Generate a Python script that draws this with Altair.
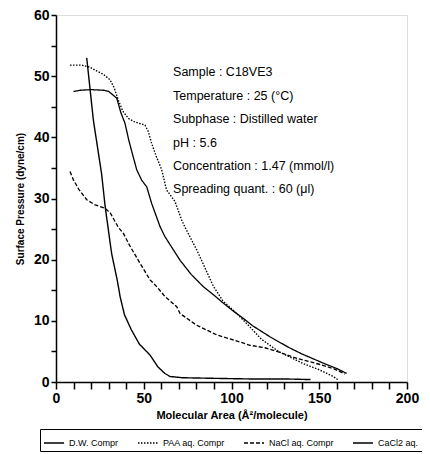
import altair as alt
import pandas as pd

series_names = ["D.W. Compr", "PAA aq. Compr", "NaCl aq. Compr", "CaCl2 aq."]

dw_x = [17.5, 21.3, 26, 28, 31.7, 35, 36.5, 39, 43, 47.5, 53.6, 58, 62, 65, 72, 90, 110, 130, 145]
dw_y = [53, 42.8, 34, 28.7, 21, 16.5, 14, 11, 8.5, 6.2, 4.4, 2.5, 1.4, 0.9, 0.7, 0.6, 0.5, 0.5, 0.4]

paa_x = [8, 14.6, 19, 22.2, 27, 30.8, 33, 35.5, 38, 41.2, 45, 50.7, 52.5, 54.5, 57, 60.2, 63, 67.8, 71.6, 73.5, 80.2, 89.6, 95, 103, 110.5, 117, 126.7, 140.9, 150, 158, 161]
paa_y = [51.8, 51.8, 51.5, 51, 50.3, 49.4, 48.2, 46.1, 44.3, 43.1, 42.5, 42, 41, 39, 37, 34.7, 31.4, 29.5, 26.5, 25.3, 21.6, 15.7, 13.3, 11.2, 9.0, 7.0, 5.0, 3.0, 2.0, 0.9, 0.3]

nacl_x = [8, 10, 13, 17.5, 22, 27.9, 31, 35.5, 38.4, 42, 47.9, 53.6, 57.4, 62, 68.8, 70.7, 80, 91.6, 102, 110.5, 119, 125.8, 138, 150, 158, 164.6]
nacl_y = [34.4, 33, 31.5, 29.8, 29, 28.4, 27.6, 25.3, 24.3, 22.3, 19.4, 16.7, 15.6, 14, 12.3, 11.2, 9.3, 7.7, 6.8, 6.0, 5.6, 5.0, 3.8, 2.9, 2.2, 1.3]

cacl_x = [10, 14, 20, 27, 30, 33, 34.6, 37, 39.3, 41.5, 44, 46, 48.8, 51.7, 54.5, 59.3, 62, 66, 70.7, 77, 83.9, 90, 95.3, 101, 106.7, 112, 121.9, 126.7, 133, 140, 153, 160, 165.6]
cacl_y = [47.5, 47.7, 47.8, 47.7, 47.5, 46.8, 46.4, 44, 42.3, 39.5, 36.8, 34.7, 33, 31.9, 29.2, 25.4, 23.8, 22, 19.9, 17.6, 15.6, 14.2, 12.9, 11.6, 10.4, 9.2, 7.4, 6.6, 5.6, 4.6, 3.0, 2.2, 1.4]

x_tick_values = list(range(0, 201, 10))
y_tick_values = list(range(0, 61, 5))

note_lines = [
    "Sample  : C18VE3",
    "Temperature : 25 (\u00b0C)",
    "Subphase : Distilled water",
    "pH : 5.6",
    "Concentration : 1.47 (mmol/l)",
    "Spreading quant. : 60 (\u03bcl)",
]
note_x = [66.7] * 6
note_y = [50.7, 46.8, 43.0, 39.1, 35.3, 31.5]

rows = []
for name, xs_, ys_ in zip(series_names, [dw_x, paa_x, nacl_x, cacl_x], [dw_y, paa_y, nacl_y, cacl_y]):
    for i, (a, b) in enumerate(zip(xs_, ys_)):
        rows.append({"series": name, "area": a, "pressure": b, "idx": i})
df = pd.DataFrame(rows)
notes = pd.DataFrame({"text": note_lines, "area": note_x, "pressure": note_y})

FONT = "Liberation Sans"

x_axis = alt.Axis(title="Molecular Area (\u00c5\u00b2/molecule)",
                  values=x_tick_values,
                  labelExpr="(datum.value == 0 || datum.value == 50 || datum.value == 100 || datum.value == 150 || datum.value == 200) ? datum.label : ''",
                  labelOverlap=False, labelSeparation=0,
                  grid=False, tickSize=7, tickColor="black", domainColor="black",
                  domainWidth=1.5, tickWidth=1.5,
                  labelFont=FONT, labelFontSize=14, labelFontWeight="bold",
                  labelColor="black", labelPadding=2, labelFlush=False,
                  titleFont=FONT, titleFontSize=11, titleFontWeight="bold",
                  titleColor="black", titlePadding=4)
y_axis = alt.Axis(title="Surface Pressure (dyne/cm)",
                  values=y_tick_values,
                  labelExpr="datum.value % 10 == 0 ? datum.label : ''",
                  labelOverlap=False,
                  grid=False, tickSize=5, tickColor="black", domainColor="black",
                  domainWidth=1.5, tickWidth=1.5,
                  labelFont=FONT, labelFontSize=14, labelFontWeight="bold",
                  labelColor="black", labelPadding=2,
                  titleFont=FONT, titleFontSize=10, titleFontWeight="bold",
                  titleColor="black", titlePadding=8)

xs = alt.Scale(domain=[0, 200], nice=False)
ys = alt.Scale(domain=[0, 60], nice=False)

lines = alt.Chart(df).mark_line(color="black").encode(
    x=alt.X("area:Q", scale=xs, axis=x_axis),
    y=alt.Y("pressure:Q", scale=ys, axis=y_axis),
    strokeDash=alt.StrokeDash("series:N",
                              scale=alt.Scale(domain=series_names,
                                              range=[[1, 0], [1.5, 1.5], [4, 2], [1, 0]]),
                              legend=alt.Legend(title=None, orient="none", legendX=-16, legendY=414,
                                                direction="horizontal", columns=4,
                                                strokeColor="black", padding=3,
                                                labelFont=FONT, labelFontSize=9, labelColor="black",
                                                symbolType="stroke", symbolSize=400,
                                                symbolStrokeWidth=1.3, symbolStrokeColor="black",
                                                columnPadding=16, labelOffset=4)),
    strokeWidth=alt.StrokeWidth("series:N",
                                scale=alt.Scale(domain=series_names, range=[1.4, 1.3, 1.5, 2.0]),
                                legend=None),
    order="idx:Q",
)

text = alt.Chart(notes).mark_text(align="left", baseline="middle", font=FONT,
                                  fontSize=12.5, color="black").encode(
    x=alt.X("area:Q", scale=xs, axis=x_axis),
    y=alt.Y("pressure:Q", scale=ys, axis=y_axis),
    text="text:N")

chart = alt.layer(lines, text).properties(
    width=351, height=367,
    autosize=alt.AutoSizeParams(type="none"),
    padding={"left": 48, "top": 7, "right": 15, "bottom": 70},
).configure_view(stroke="black", strokeWidth=1.5).configure(background="white")

chart.save("out.html", embed_options={"renderer": "svg", "actions": False})
